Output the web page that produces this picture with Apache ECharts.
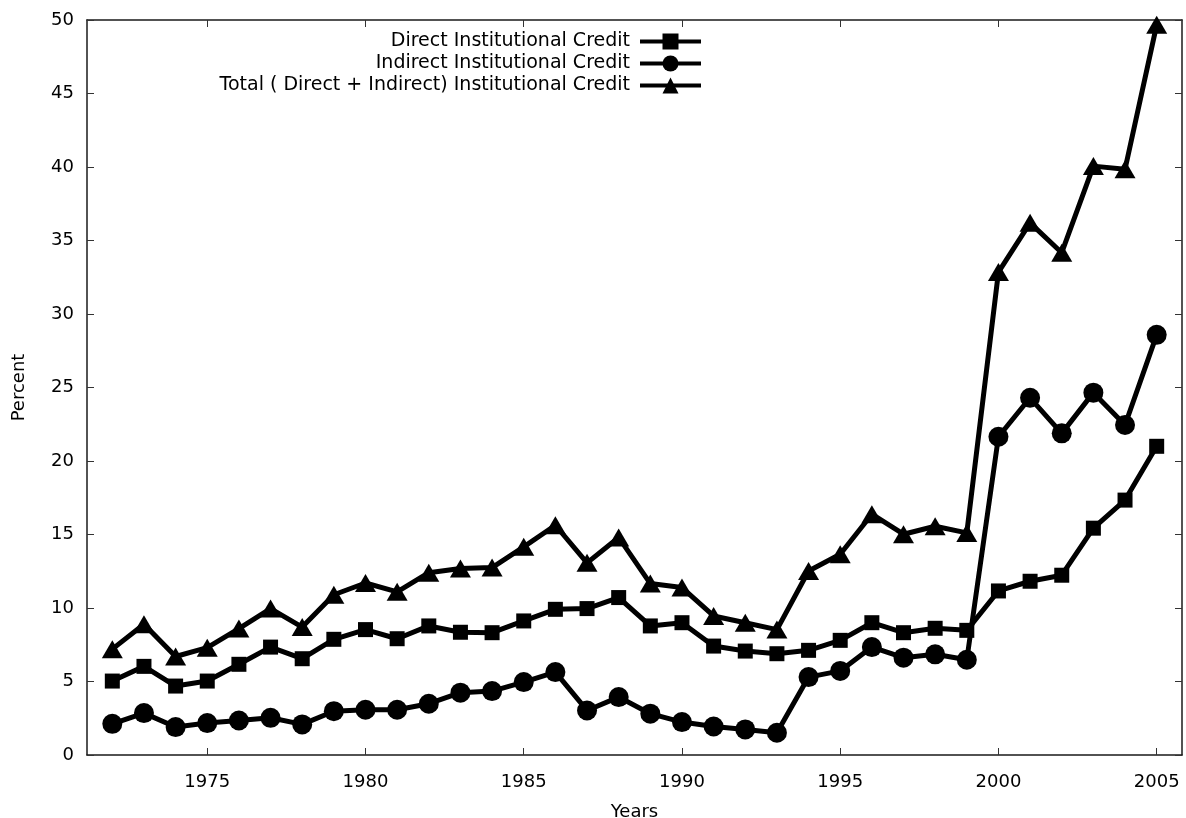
<!DOCTYPE html>
<html>
<head>
<meta charset="utf-8">
<title>Institutional Credit</title>
<script src="https://cdn.jsdelivr.net/npm/echarts@6/dist/echarts.min.js"></script>
<style>
  html, body { margin: 0; padding: 0; background: #ffffff; }
  #chart { width: 1186px; height: 818px; }
</style>
</head>
<body>
<div id="chart"></div>
<script>
// Years of observation
const years = [1972, 1973, 1974, 1975, 1976, 1977, 1978, 1979, 1980, 1981, 1982, 1983,
  1984, 1985, 1986, 1987, 1988, 1989, 1990, 1991, 1992, 1993, 1994, 1995, 1996, 1997,
  1998, 1999, 2000, 2001, 2002, 2003, 2004, 2005];

// Direct institutional credit (percent)
const directCredit = [5.03, 6.03, 4.69, 5.03, 6.17, 7.34, 6.55, 7.87, 8.53, 7.91, 8.78, 8.35,
  8.32, 9.12, 9.91, 9.96, 10.71, 8.78, 9.0, 7.41, 7.07, 6.89, 7.12, 7.8, 9.0, 8.32,
  8.62, 8.48, 11.16, 11.82, 12.23, 15.43, 17.34, 21.0];

// Indirect institutional credit (percent)
const indirectCredit = [2.12, 2.85, 1.9, 2.17, 2.35, 2.53, 2.08, 2.98, 3.08, 3.08, 3.49, 4.24,
  4.35, 4.96, 5.64, 3.03, 3.94, 2.81, 2.24, 1.94, 1.74, 1.51, 5.3, 5.72, 7.34, 6.62,
  6.85, 6.48, 21.65, 24.3, 21.88, 24.65, 22.45, 28.58];

// Total (direct + indirect) institutional credit (percent)
const totalCredit = [7.2, 8.9, 6.7, 7.3, 8.6, 9.96, 8.7, 10.9, 11.7, 11.1, 12.4, 12.68,
  12.75, 14.16, 15.63, 13.07, 14.8, 11.66, 11.39, 9.46, 9.0, 8.53, 12.52, 13.66, 16.38, 15.02,
  15.56, 15.11, 32.85, 36.2, 34.17, 40.06, 39.85, 49.67];

// Tick positions
const xTicks = [1975, 1980, 1985, 1990, 1995, 2000, 2005];

const seriesNames = [
  'Direct Institutional Credit',
  'Indirect Institutional Credit',
  'Total ( Direct + Indirect) Institutional Credit'
];

const FONT = 'DejaVu Sans';
const INK = '#000000';
const AXIS = '#1a1a1a';

const pairs = (vals) => years.map((y, i) => [y, vals[i]]);

function ticks(extra) {
  return Object.assign({ show: true, inside: true, length: 7, lineStyle: { color: '#333', width: 1 } }, extra || {});
}
function border() {
  return { show: true, onZero: false, lineStyle: { color: AXIS, width: 1.5 } };
}

function makeSeries(name, vals, symbol, size) {
  return {
    name: name,
    type: 'line',
    data: pairs(vals),
    symbol: symbol,
    symbolSize: size,
    showSymbol: true,
    lineStyle: { color: INK, width: 5 },
    itemStyle: { color: INK, borderWidth: 0 },
    emphasis: { disabled: true },
    z: 3
  };
}

function legendFor(name, top) {
  return {
    data: [name],
    right: 483,
    top: top,
    orient: 'vertical',
    align: 'right',
    padding: 0,
    itemWidth: 61,
    itemHeight: 20,
    selectedMode: false,
    lineStyle: { width: 4, color: INK },
    itemStyle: { color: INK },
    textStyle: { fontFamily: FONT, fontSize: 19, color: '#000', padding: [0, 5, 0, 0] }
  };
}

const chart = echarts.init(document.getElementById('chart'), null, { renderer: 'canvas' });

chart.setOption({
  animation: false,
  backgroundColor: '#ffffff',
  grid: { left: 87, right: 4, top: 20, bottom: 63, containLabel: false, outerBoundsMode: 'none' },
  legend: [
    legendFor(seriesNames[0], 32),
    legendFor(seriesNames[1], 54),
    legendFor(seriesNames[2], 76)
  ],
  xAxis: [
    {
      type: 'value',
      position: 'bottom',
      min: 1971.2,
      max: 2005.8,
      name: 'Years',
      nameLocation: 'middle',
      nameGap: 48,
      nameTextStyle: { fontFamily: FONT, fontSize: 18, color: '#000' },
      axisLine: border(),
      axisTick: ticks({ customValues: xTicks }),
      axisLabel: {
        customValues: xTicks,
        formatter: (v) => String(v),
        margin: 18,
        fontFamily: FONT,
        fontSize: 18,
        color: '#000'
      },
      splitLine: { show: false }
    },
    {
      type: 'value',
      position: 'top',
      min: 1971.2,
      max: 2005.8,
      axisLine: border(),
      axisTick: ticks({ customValues: xTicks }),
      axisLabel: { show: false },
      splitLine: { show: false }
    }
  ],
  yAxis: [
    {
      type: 'value',
      position: 'left',
      min: 0,
      max: 50,
      interval: 5,
      name: 'Percent',
      nameLocation: 'middle',
      nameGap: 59,
      nameRotate: 90,
      nameTextStyle: { fontFamily: FONT, fontSize: 18, color: '#000' },
      axisLine: border(),
      axisTick: ticks(),
      axisLabel: { margin: 13, fontFamily: FONT, fontSize: 18, color: '#000' },
      splitLine: { show: false }
    },
    {
      type: 'value',
      position: 'right',
      min: 0,
      max: 50,
      interval: 5,
      axisLine: border(),
      axisTick: ticks(),
      axisLabel: { show: false },
      splitLine: { show: false }
    }
  ],
  series: [
    makeSeries(seriesNames[0], directCredit, 'rect', 15),
    makeSeries(seriesNames[1], indirectCredit, 'circle', 20),
    makeSeries(seriesNames[2], totalCredit, 'triangle', [21, 18])
  ]
});
</script>
</body>
</html>
